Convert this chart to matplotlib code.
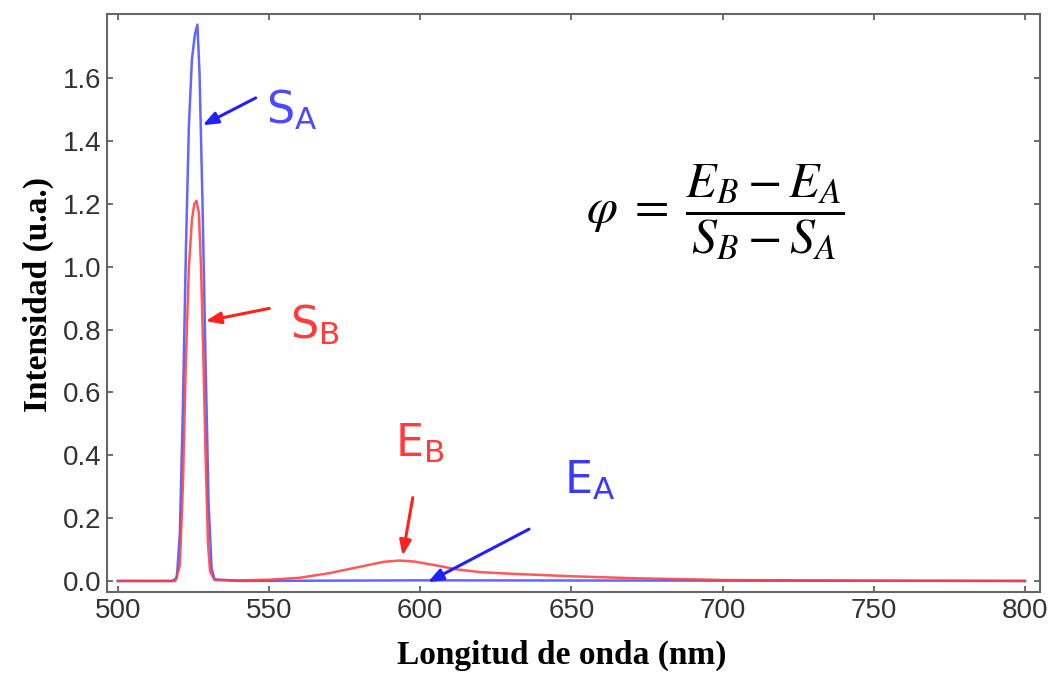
import matplotlib
matplotlib.use("Agg")
import matplotlib.pyplot as plt
import numpy as np

plt.rcParams["mathtext.fontset"] = "stix"

# Data
wl_A = [500, 518, 519.5, 520.5, 521.5, 522.5, 523.5, 524.5, 525.5, 526.3, 527, 528, 529, 530, 531, 532, 540, 600, 700, 800]
int_A = [0.0, 0.0, 0.01, 0.15, 0.55, 1.05, 1.45, 1.66, 1.74, 1.77, 1.62, 1.2, 0.7, 0.25, 0.04, 0.005, 0.0, 0.002, 0.001, 0.0]

wl_B = [500, 519, 520.5, 521.5, 522.5, 523.5, 524.5, 525.3, 526, 526.8, 527.5, 528.3, 529, 529.8, 530.5, 532, 540, 550, 560, 570, 580, 588, 593, 598, 605, 612, 620, 630, 640, 650, 660, 670, 685, 700, 750, 800]
int_B = [0.0, 0.0, 0.05, 0.3, 0.7, 1.0, 1.15, 1.2, 1.21, 1.17, 1.0, 0.7, 0.4, 0.12, 0.03, 0.003, 0.002, 0.004, 0.01, 0.025, 0.045, 0.061, 0.065, 0.062, 0.05, 0.037, 0.028, 0.023, 0.019, 0.015, 0.012, 0.009, 0.006, 0.003, 0.001, 0.0]

xticks = [500, 550, 600, 650, 700, 750, 800]
yticks = [0.0, 0.2, 0.4, 0.6, 0.8, 1.0, 1.2, 1.4, 1.6]

blue = "#4a4aff"
red = "#ff3b3b"

fig = plt.figure(figsize=(10.57, 6.73), dpi=100)
ax = fig.add_axes([0.1012, 0.1204, 0.8828, 0.8588])

ax.plot(wl_A, int_A, color=blue, lw=1.8, alpha=0.85, zorder=3)
ax.plot(wl_B, int_B, color=red, lw=1.8, alpha=0.85, zorder=4)

ax.set_xlim(496.4, 805)
ax.set_ylim(-0.035, 1.804)
ax.set_xticks(xticks)
ax.set_yticks(yticks)
ax.set_xticklabels([str(v) for v in xticks])
ax.set_yticklabels([f"{v:.1f}" for v in yticks])

for s in ax.spines.values():
    s.set_color("#666666")
    s.set_linewidth(1.5)
ax.tick_params(direction="in", length=4, width=1.2, color="#555555",
               top=True, right=True, labelsize=20, labelcolor="#333333", pad=4)
for lab in ax.get_xticklabels() + ax.get_yticklabels():
    lab.set_fontfamily("Liberation Sans")

ax.set_xlabel("Longitud de onda (nm)", fontfamily="Liberation Serif", fontweight="bold",
              fontsize=24, labelpad=12)
ax.set_ylabel("Intensidad (u.a.)", fontfamily="Liberation Serif", fontweight="bold",
              fontsize=24, labelpad=6)
ax.xaxis.label.set_x(0.487)
ax.yaxis.label.set_y(0.514)

# Annotations
arrow_kw = dict(arrowstyle="-|>,head_length=0.9,head_width=0.35", lw=2.2)
ax.annotate("", xy=(527.2, 1.446), xytext=(546.4, 1.541),
            arrowprops=dict(color="#2020ff", **arrow_kw), zorder=6)
ax.annotate("", xy=(528.1, 0.825), xytext=(551.0, 0.869),
            arrowprops=dict(color="#ff2020", **arrow_kw), zorder=6)
ax.annotate("", xy=(594.0, 0.072), xytext=(597.7, 0.274),
            arrowprops=dict(color="#ff2020", **arrow_kw), zorder=6)
ax.annotate("", xy=(601.7, -0.008), xytext=(636.8, 0.169),
            arrowprops=dict(color="#2020ff", **arrow_kw), zorder=6)

lab_kw = dict(fontfamily="DejaVu Sans", fontsize=32, va="center")
ax.text(549.0, 1.50, r"S$_{\mathregular{A}}$", color="#4a4aff", ha="left", **lab_kw)
ax.text(557.0, 0.815, r"S$_{\mathregular{B}}$", color="#ff3b3b", ha="left", **lab_kw)
ax.text(600, 0.436, r"E$_{\mathregular{B}}$", color="#ff3b3b", ha="center", **lab_kw)
ax.text(656, 0.32, r"E$_{\mathregular{A}}$", color="#3a3aff", ha="center", **lab_kw)

ax.text(0.652, 0.657, r"$\varphi\;=\;\dfrac{E_B - E_A}{S_B - S_A}$", transform=ax.transAxes,
        fontsize=36, ha="center", va="center", color="black")

fig.savefig("out.png", dpi=100)
